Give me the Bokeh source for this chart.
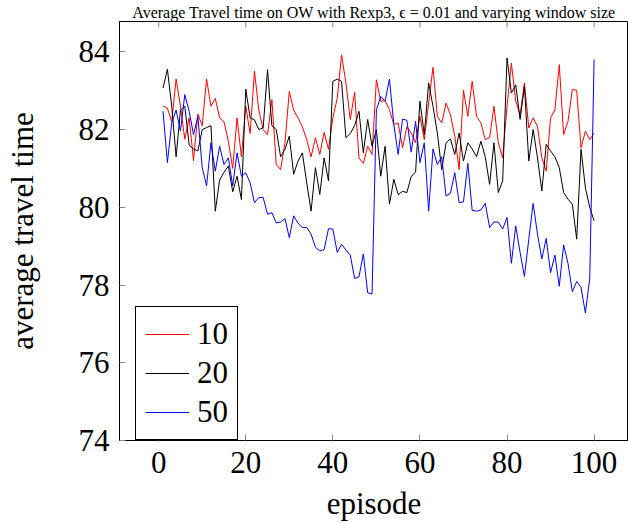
from bokeh.plotting import figure
from bokeh.models import Range1d, FixedTicker, Title
from bokeh.embed import file_html
from bokeh.resources import INLINE

# Average travel time per episode for three settings
episodes = list(range(1, 101))

series_10 = [
    82.6, 82.55, 82.2, 83.3, 82.6, 81.75, 82.3, 81.2, 82.4, 82.1,
    83.3, 82.6, 82.8, 82.3, 82.2, 81.7, 81.0, 82.3, 81.3, 82.6,
    81.9, 83.5, 82.5, 82.0, 81.87, 82.77, 81.1, 80.97, 81.66, 82.98,
    82.5, 82.3, 82.07, 81.74, 81.3, 81.79, 81.36, 81.93, 81.49, 82.3,
    82.8, 83.92, 83.2, 82.26, 82.96, 81.27, 81.13, 81.57, 81.36, 83.28,
    82.73, 82.74, 82.51, 82.13, 82.17, 81.53, 82.07, 81.91, 81.66, 82.34,
    81.74, 82.68, 83.6, 82.34, 82.17, 82.68, 82.38, 81.83, 80.97, 83.01,
    82.34, 83.24, 82.34, 82.17, 81.74, 81.79, 82.6, 81.66, 81.27, 82.6,
    83.71, 82.73, 82.38, 83.2, 82.04, 82.3, 82.08, 81.27, 80.93, 82.3,
    82.51, 83.67, 81.87, 82.21, 83.03, 83.01, 81.53, 81.96, 81.74, 81.91,
]

series_20 = [
    83.07, 83.55, 82.6, 81.3, 82.5, 82.6, 81.6, 81.5, 81.45, 82.0,
    82.05, 82.1, 79.9, 80.7, 80.9, 81.06, 80.4, 80.8, 80.2, 83.04,
    82.3, 82.25, 82.0, 82.05, 83.54, 82.1, 82.0, 81.3, 81.49, 81.83,
    80.85, 81.19, 81.4, 80.63, 79.9, 81.02, 80.33, 81.27, 80.68, 83.24,
    83.3, 83.24, 81.79, 81.9, 82.1, 82.47, 81.4, 82.26, 81.57, 82.0,
    80.8, 81.57, 80.08, 80.72, 80.33, 80.41, 80.38, 80.79, 80.91, 82.73,
    81.87, 83.2, 82.6, 81.91, 80.97, 81.66, 81.76, 81.36, 81.91, 81.19,
    81.66, 81.5, 81.3, 81.7, 81.3, 80.59, 81.66, 80.38, 80.68, 83.84,
    82.94, 83.15, 82.26, 83.11, 81.19, 82.0, 81.27, 80.42, 81.62, 81.45,
    81.3, 81.02, 80.38, 80.21, 80.08, 79.18, 81.49, 80.5, 80.0, 79.65,
]

series_50 = [
    82.47, 81.15, 82.17, 82.5, 81.96, 82.9, 82.47, 81.87, 82.34, 81.02,
    80.55, 81.66, 80.93, 81.57, 81.1, 81.27, 80.55, 81.4, 80.8, 80.89,
    80.63, 80.12, 80.25, 80.25, 79.82, 79.86, 79.6, 79.62, 79.71, 79.22,
    79.78, 79.59, 79.48, 79.48, 79.31, 78.97, 78.88, 78.91, 79.45, 79.44,
    78.84, 79.05, 78.9, 78.77, 78.17, 78.21, 78.8, 77.8, 77.77, 82.51,
    82.85, 82.73, 83.3, 82.13, 81.36, 82.27, 82.24, 81.42, 82.21, 81.15,
    81.66, 79.9, 81.5, 81.1, 81.3, 80.29, 80.36, 80.89, 80.12, 80.14,
    81.13, 79.92, 79.9, 79.93, 80.1, 79.48, 79.62, 79.62, 79.44, 79.74,
    78.56, 79.52, 78.84, 78.22, 79.18, 80.1, 79.31, 78.67, 79.2, 78.32,
    78.77, 77.97, 79.03, 78.56, 77.83, 78.09, 77.94, 77.28, 78.17, 83.8,
]

series_names = ["10", "20", "50"]
series_colors = ["red", "black", "blue"]

x_ticks = [0, 20, 40, 60, 80, 100]
y_ticks = [74, 76, 78, 80, 82, 84]

title_text = "Average Travel time on OW with Rexp3, \u03f5 = 0.01 and varying window size"

FONT = "Liberation Serif"
FS = "31px"

p = figure(
    width=628, height=523,
    x_range=Range1d(-9, 107.9), y_range=Range1d(74, 84.78),
    output_backend="svg", toolbar_location=None,
    min_border_left=119, min_border_right=0,
    min_border_top=0, min_border_bottom=80,
    x_axis_label="episode", y_axis_label="average travel time",
)
p.title = Title(text=title_text, align="center", standoff=2,
                text_font=FONT, text_font_size="16px", text_font_style="normal",
                text_color="black")
p.grid.visible = False
p.outline_line_color = "black"
p.outline_line_width = 1
p.background_fill_color = "white"
p.border_fill_color = "white"

for ax in (p.xaxis[0], p.yaxis[0]):
    ax.major_tick_in = 6
    ax.major_tick_out = 0
    ax.minor_tick_line_color = None
    ax.major_tick_line_color = "#888888"
    ax.axis_line_color = "black"
    ax.major_label_text_font = FONT
    ax.major_label_text_font_size = FS
    ax.major_label_text_color = "black"
    ax.axis_label_text_font = FONT
    ax.axis_label_text_font_size = FS
    ax.axis_label_text_font_style = "normal"
    ax.axis_label_text_color = "black"

p.xaxis[0].ticker = FixedTicker(ticks=x_ticks)
p.yaxis[0].ticker = FixedTicker(ticks=y_ticks)
p.xaxis[0].major_label_standoff = 11
p.yaxis[0].major_label_standoff = 10
p.xaxis[0].axis_label_standoff = 10
p.yaxis[0].axis_label_standoff = 36

# inward tick marks along the top edge of the frame
tick_len = 6 / 39.0
p.segment(x0=x_ticks, y0=[p.y_range.end] * len(x_ticks),
          x1=x_ticks, y1=[p.y_range.end - tick_len] * len(x_ticks),
          line_color="#888888", line_width=1)

for vals, color, name in zip([series_10, series_20, series_50], series_colors, series_names):
    p.line(episodes, vals, line_color=color, line_width=1, legend_label=name)

lg = p.legend[0]
lg.location = (16, 0)
lg.label_text_font = FONT
lg.label_text_font_size = FS
lg.label_text_color = "black"
lg.glyph_width = 44
lg.glyph_height = 30
lg.label_height = 30
lg.label_standoff = 8
lg.spacing = 3
lg.padding = 9
lg.margin = 0
lg.border_line_color = "black"
lg.border_line_width = 1
lg.border_line_alpha = 1.0
lg.background_fill_color = "white"
lg.background_fill_alpha = 1.0

open("out.html", "w").write(file_html(p, INLINE))
